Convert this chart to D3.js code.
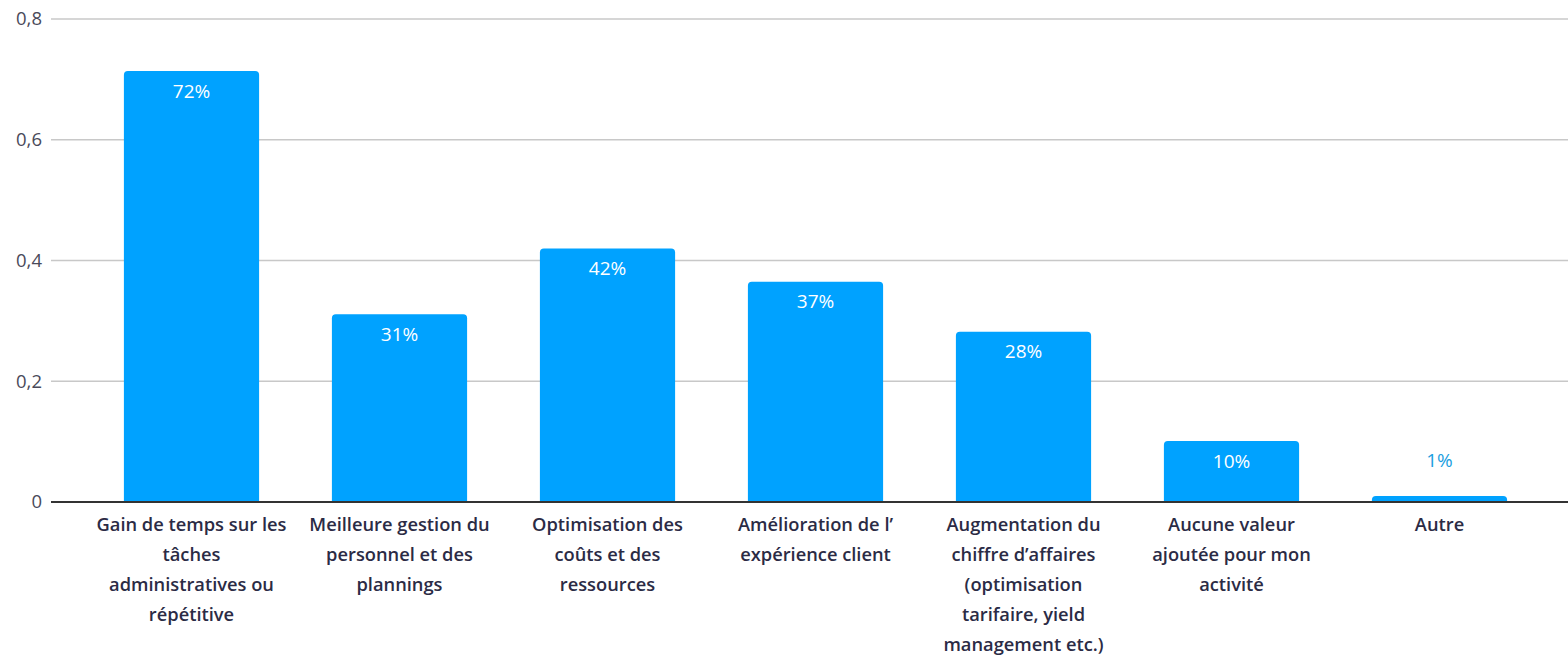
<!DOCTYPE html>
<html><head><meta charset="utf-8">
<script src="https://cdn.jsdelivr.net/npm/d3@7"></script>
<style>
html,body{margin:0;padding:0;background:#fff;}
svg{display:block;}
</style></head>
<body>
<svg id="chart" width="1568" height="655"></svg>
<script>
const categories = [
  ["Gain de temps sur les","tâches","administratives ou","répétitive"],
  ["Meilleure gestion du","personnel et des","plannings"],
  ["Optimisation des","coûts et des","ressources"],
  ["Amélioration de l’","expérience client"],
  ["Augmentation du","chiffre d’affaires","(optimisation","tarifaire, yield","management etc.)"],
  ["Aucune valeur","ajoutée pour mon","activité"],
  ["Autre"]
];
const values = [0.714, 0.311, 0.42, 0.365, 0.282, 0.101, 0.01];
const valueLabels = ["72%","31%","42%","37%","28%","10%","1%"];
const yTicks = [0, 0.2, 0.4, 0.6, 0.8];
const yTickLabels = ["0","0,2","0,4","0,6","0,8"];

const svg = d3.select("#chart");
const x = d3.scaleBand().domain(d3.range(categories.length)).range([87.5, 1543.5]).paddingInner(0.35).paddingOuter(0.175);
const y = d3.scaleLinear().domain([0, 0.8]).range([502, 19]);
const font = "'Open Sans', sans-serif";

// gridlines
svg.append("g").selectAll("line").data(yTicks.filter(d => d > 0)).join("line")
  .attr("x1", 51).attr("x2", 1568)
  .attr("y1", d => y(d)).attr("y2", d => y(d))
  .attr("stroke", "#c8c8c8").attr("stroke-width", 1.6);

// y labels
svg.append("g").selectAll("text").data(yTicks).join("text")
  .attr("x", 42).attr("y", d => y(d)).attr("dy", "0.35em")
  .attr("text-anchor", "end").attr("font-family", font).attr("font-size", 18.5)
  .attr("fill", "#4a4a5a").text((d, i) => yTickLabels[i]);

// bars with rounded top corners
const r = 4;
svg.append("g").selectAll("path").data(values).join("path")
  .attr("fill", "#00a2ff")
  .attr("d", (d, i) => {
    const x0 = x(i), w = x.bandwidth(), y0 = y(d), y1 = y(0);
    const rr = Math.min(r, (y1 - y0));
    return `M${x0},${y1}V${y0 + rr}Q${x0},${y0} ${x0 + rr},${y0}H${x0 + w - rr}Q${x0 + w},${y0} ${x0 + w},${y0 + rr}V${y1}Z`;
  });

// zero axis line
svg.append("line").attr("x1", 51).attr("x2", 1568).attr("y1", y(0)).attr("y2", y(0))
  .attr("stroke", "#333").attr("stroke-width", 2);

// value labels
svg.append("g").selectAll("text").data(values).join("text")
  .attr("x", (d, i) => x(i) + x.bandwidth() / 2)
  .attr("y", d => (y(0) - y(d) > 30) ? y(d) + 20 : y(d) - 36)
  .attr("dy", "0.35em").attr("text-anchor", "middle")
  .attr("font-family", font).attr("font-size", 19)
  .attr("fill", d => (y(0) - y(d) > 30) ? "#ffffff" : "#1a9ee0")
  .text((d, i) => valueLabels[i]);

// x labels
const xg = svg.append("g").selectAll("text").data(categories).join("text")
  .attr("x", (d, i) => x(i) + x.bandwidth() / 2)
  .attr("y", 525).attr("text-anchor", "middle")
  .attr("font-family", font).attr("font-size", 18.3).attr("font-weight", 600)
  .attr("fill", "#2b2b45");
xg.selectAll("tspan").data(d => d).join("tspan")
  .attr("x", function() { return this.parentNode.getAttribute("x"); })
  .attr("dy", (d, j) => j === 0 ? "0.35em" : 30)
  .text(d => d);
</script>
</body></html>
